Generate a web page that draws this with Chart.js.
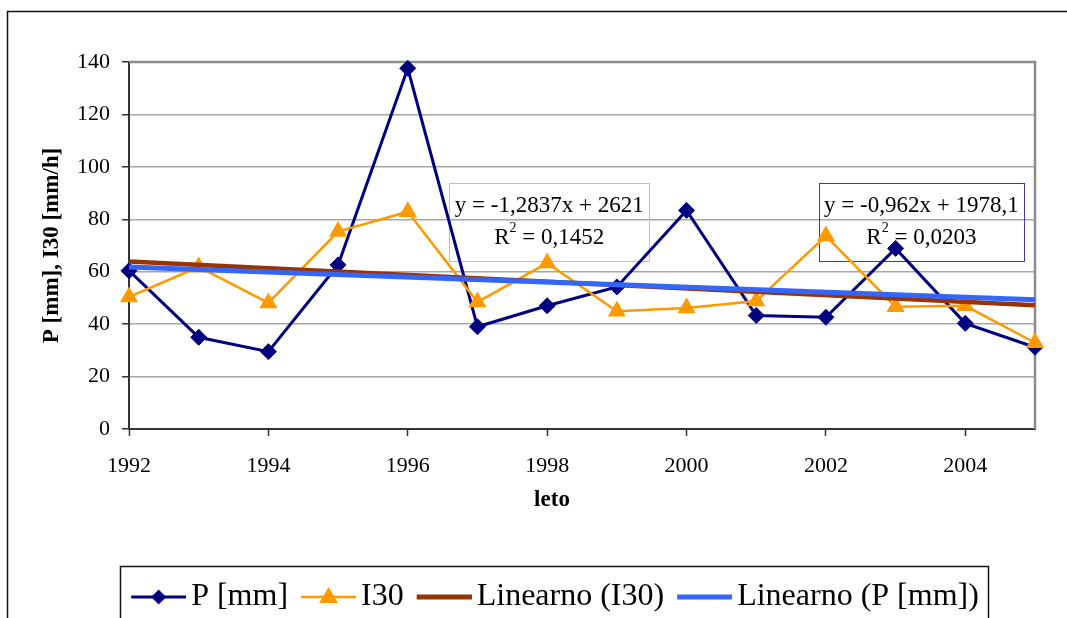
<!DOCTYPE html>
<html>
<head>
<meta charset="utf-8">
<title>P in I30</title>
<script src="https://cdn.jsdelivr.net/npm/chart.js@4.4.1/dist/chart.umd.min.js"></script>
<style>
  html, body { margin: 0; padding: 0; background: #fff; overflow: hidden; }
  #wrap { width: 1067px; height: 618px; }
</style>
</head>
<body>
<div id="wrap"><canvas id="chart" width="1067" height="618"></canvas></div>
<script>
const years = [1992, 1993, 1994, 1995, 1996, 1997, 1998, 1999, 2000, 2001, 2002, 2003, 2004, 2005];
const pValues = [60.4, 35.0, 29.5, 62.6, 137.6, 39.0, 47.0, 54.2, 83.4, 43.3, 42.6, 68.9, 40.3, 31.2];
const i30Values = [50.4, 61.8, 48.1, 75.3, 82.9, 48.4, 63.3, 44.9, 46.2, 48.8, 73.6, 46.6, 47.0, 32.9];
const trendYears = [1992, 2005];
const i30Trend = [63.9, 47.2];
const pTrend = [61.8, 49.3];
const xTicks = [1992, 1994, 1996, 1998, 2000, 2002, 2004];
const seriesNames = ['P [mm]', 'I30', 'Linearno (I30)', 'Linearno (P [mm])'];

const serif = "'Liberation Serif', 'Times New Roman', serif";
const navy = '#000080';
const orange = '#ff9900';
const brown = '#993300';
const blue = '#3366ff';

// trendline labels (equations as shown on the original chart)
const notes = [
  { x: 1998.03, y: 79.1, w: 200, h: 78, color: '#ffb450', eq: 'y = -1,2837x + 2621', r2: '0,1452' },
  { x: 2003.37, y: 79.1, w: 205, h: 78, color: '#3c3c9c', eq: 'y = -0,962x + 1978,1', r2: '0,0203' }
];

const toPoints = (xs, ys) => xs.map((x, i) => ({ x, y: ys[i] }));

function legendIcon(color, width, marker) {
  const c = document.createElement('canvas');
  c.width = 66; c.height = 30;
  const g = c.getContext('2d');
  g.strokeStyle = color;
  g.fillStyle = color;
  g.lineWidth = width;
  g.beginPath(); g.moveTo(11, 15); g.lineTo(66, 15); g.stroke();
  const cx = 38.5;
  if (marker === 'diamond') {
    g.beginPath();
    g.moveTo(cx - 7.5, 15); g.lineTo(cx, 7.5); g.lineTo(cx + 7.5, 15); g.lineTo(cx, 22.5);
    g.closePath(); g.fill();
  } else if (marker === 'triangle') {
    g.beginPath();
    g.moveTo(cx, 5); g.lineTo(cx + 9.5, 21); g.lineTo(cx - 9.5, 21);
    g.closePath(); g.fill();
  }
  return c;
}
const legendIcons = [
  legendIcon(navy, 3, 'diamond'),
  legendIcon(orange, 2.5, 'triangle'),
  legendIcon(brown, 5, null),
  legendIcon(blue, 5, null)
];

const decor = {
  id: 'decor',
  afterLayout(chart) {
    const lg = chart.legend;
    const dx = 555 - (lg.left + lg.right) / 2;
    lg.left += dx; lg.right += dx;
    lg.top += 5; lg.bottom += 5;
  },
  beforeDraw(chart) {
    const ctx = chart.ctx;
    ctx.save();
    ctx.strokeStyle = '#111';
    ctx.lineWidth = 1.5;
    ctx.strokeRect(7.5, 11.5, 1100, 700);
    ctx.restore();
  },
  beforeDatasetsDraw(chart) {
    const { ctx, chartArea: a, scales } = chart;
    ctx.save();
    // plot area frame (top / right)
    ctx.strokeStyle = '#8c8c8c';
    ctx.lineWidth = 2.5;
    ctx.beginPath();
    ctx.moveTo(a.left, a.top); ctx.lineTo(a.right, a.top); ctx.lineTo(a.right, a.bottom);
    ctx.stroke();

    // equation boxes
    notes.forEach(n => {
      const cx = scales.x.getPixelForValue(n.x);
      const cy = scales.y.getPixelForValue(n.y);
      const left = Math.round(cx - n.w / 2) + 0.5;
      const top = Math.round(cy - n.h / 2) + 0.5;
      ctx.strokeStyle = n.color;
      ctx.lineWidth = 1;
      ctx.strokeRect(left, top, n.w, n.h);
      ctx.fillStyle = '#000';
      ctx.textBaseline = 'middle';
      ctx.textAlign = 'center';
      ctx.font = '23px ' + serif;
      ctx.fillText(n.eq, cx, top + 22.5);
      const rest = ' = ' + n.r2;
      const wR = ctx.measureText('R').width;
      const wRest = ctx.measureText(rest).width;
      ctx.font = '14px ' + serif;
      const wSup = ctx.measureText('2').width;
      let x = cx - (wR + wSup + wRest) / 2;
      const y2 = top + 54;
      ctx.textAlign = 'left';
      ctx.font = '23px ' + serif;
      ctx.fillText('R', x, y2);
      ctx.font = '14px ' + serif;
      ctx.fillText('2', x + wR, y2 - 9);
      ctx.font = '23px ' + serif;
      ctx.fillText(rest, x + wR + wSup, y2);
    });

    // x axis title
    ctx.fillStyle = '#000';
    ctx.textAlign = 'center';
    ctx.textBaseline = 'middle';
    ctx.font = 'bold 23px ' + serif;
    ctx.fillText('leto', 552, 500);
    ctx.restore();
  },
  afterDraw(chart) {
    const ctx = chart.ctx;
    ctx.save();
    ctx.strokeStyle = '#111';
    ctx.lineWidth = 1.5;
    ctx.strokeRect(120.5, 566.5, 868, 100);
    ctx.restore();
  }
};

window.addEventListener('DOMContentLoaded', () => {
  Chart.defaults.font.family = serif;
  Chart.defaults.color = '#000';

  new Chart(document.getElementById('chart'), {
    type: 'line',
    data: {
      datasets: [
        {
          label: seriesNames[0], data: toPoints(years, pValues), order: 4,
          borderColor: navy, backgroundColor: navy, borderWidth: 3,
          pointStyle: 'rectRot', pointRadius: 8, pointBorderWidth: 1, clip: false
        },
        {
          label: seriesNames[1], data: toPoints(years, i30Values), order: 3,
          borderColor: orange, backgroundColor: orange, borderWidth: 2.5,
          pointStyle: 'triangle', pointRadius: 10.5, pointBorderWidth: 0, clip: false
        },
        {
          label: seriesNames[2], data: toPoints(trendYears, i30Trend), order: 2,
          borderColor: brown, backgroundColor: brown, borderWidth: 4.5, pointRadius: 0, clip: false
        },
        {
          label: seriesNames[3], data: toPoints(trendYears, pTrend), order: 1,
          borderColor: blue, backgroundColor: blue, borderWidth: 5, pointRadius: 0, clip: false
        }
      ]
    },
    options: {
      responsive: false,
      animation: false,
      devicePixelRatio: 1,
      events: [],
      layout: { padding: { top: 62, right: 32, left: 0, bottom: 0 } },
      scales: {
        x: {
          type: 'linear', min: 1992, max: 2005,
          afterBuildTicks: s => { s.ticks = xTicks.map(v => ({ value: v })); },
          afterFit: s => { s.height = 134; },
          ticks: { font: { size: 22 }, padding: 17, maxRotation: 0, autoSkip: false, callback: v => String(v) },
          grid: { drawOnChartArea: false, tickLength: 7, tickColor: '#333', tickWidth: 1.5 },
          border: { color: '#333', width: 2 }
        },
        y: {
          min: 0, max: 140,
          afterFit: s => { s.width = 129; },
          ticks: { stepSize: 20, font: { size: 22 }, padding: 12 },
          grid: { color: '#a6a6a6', lineWidth: 1.5, tickLength: 7, tickColor: '#333', tickWidth: 1.5 },
          border: { color: '#333', width: 2 },
          title: {
            display: true, text: 'P [mm], I30 [mm/h]',
            font: { size: 23, weight: 'bold' }, padding: { top: 38, bottom: 0 }
          }
        }
      },
      plugins: {
        tooltip: { enabled: false },
        legend: {
          position: 'bottom',
          labels: {
            usePointStyle: true,
            pointStyleWidth: 44,
            padding: 13,
            font: { size: 32 },
            color: '#000',
            generateLabels: chart => Chart.defaults.plugins.legend.labels.generateLabels(chart)
              .sort((a, b) => a.datasetIndex - b.datasetIndex)
              .map(item => ({ ...item, pointStyle: legendIcons[item.datasetIndex] }))
          }
        }
      }
    },
    plugins: [decor]
  });
});
</script>
</body>
</html>
